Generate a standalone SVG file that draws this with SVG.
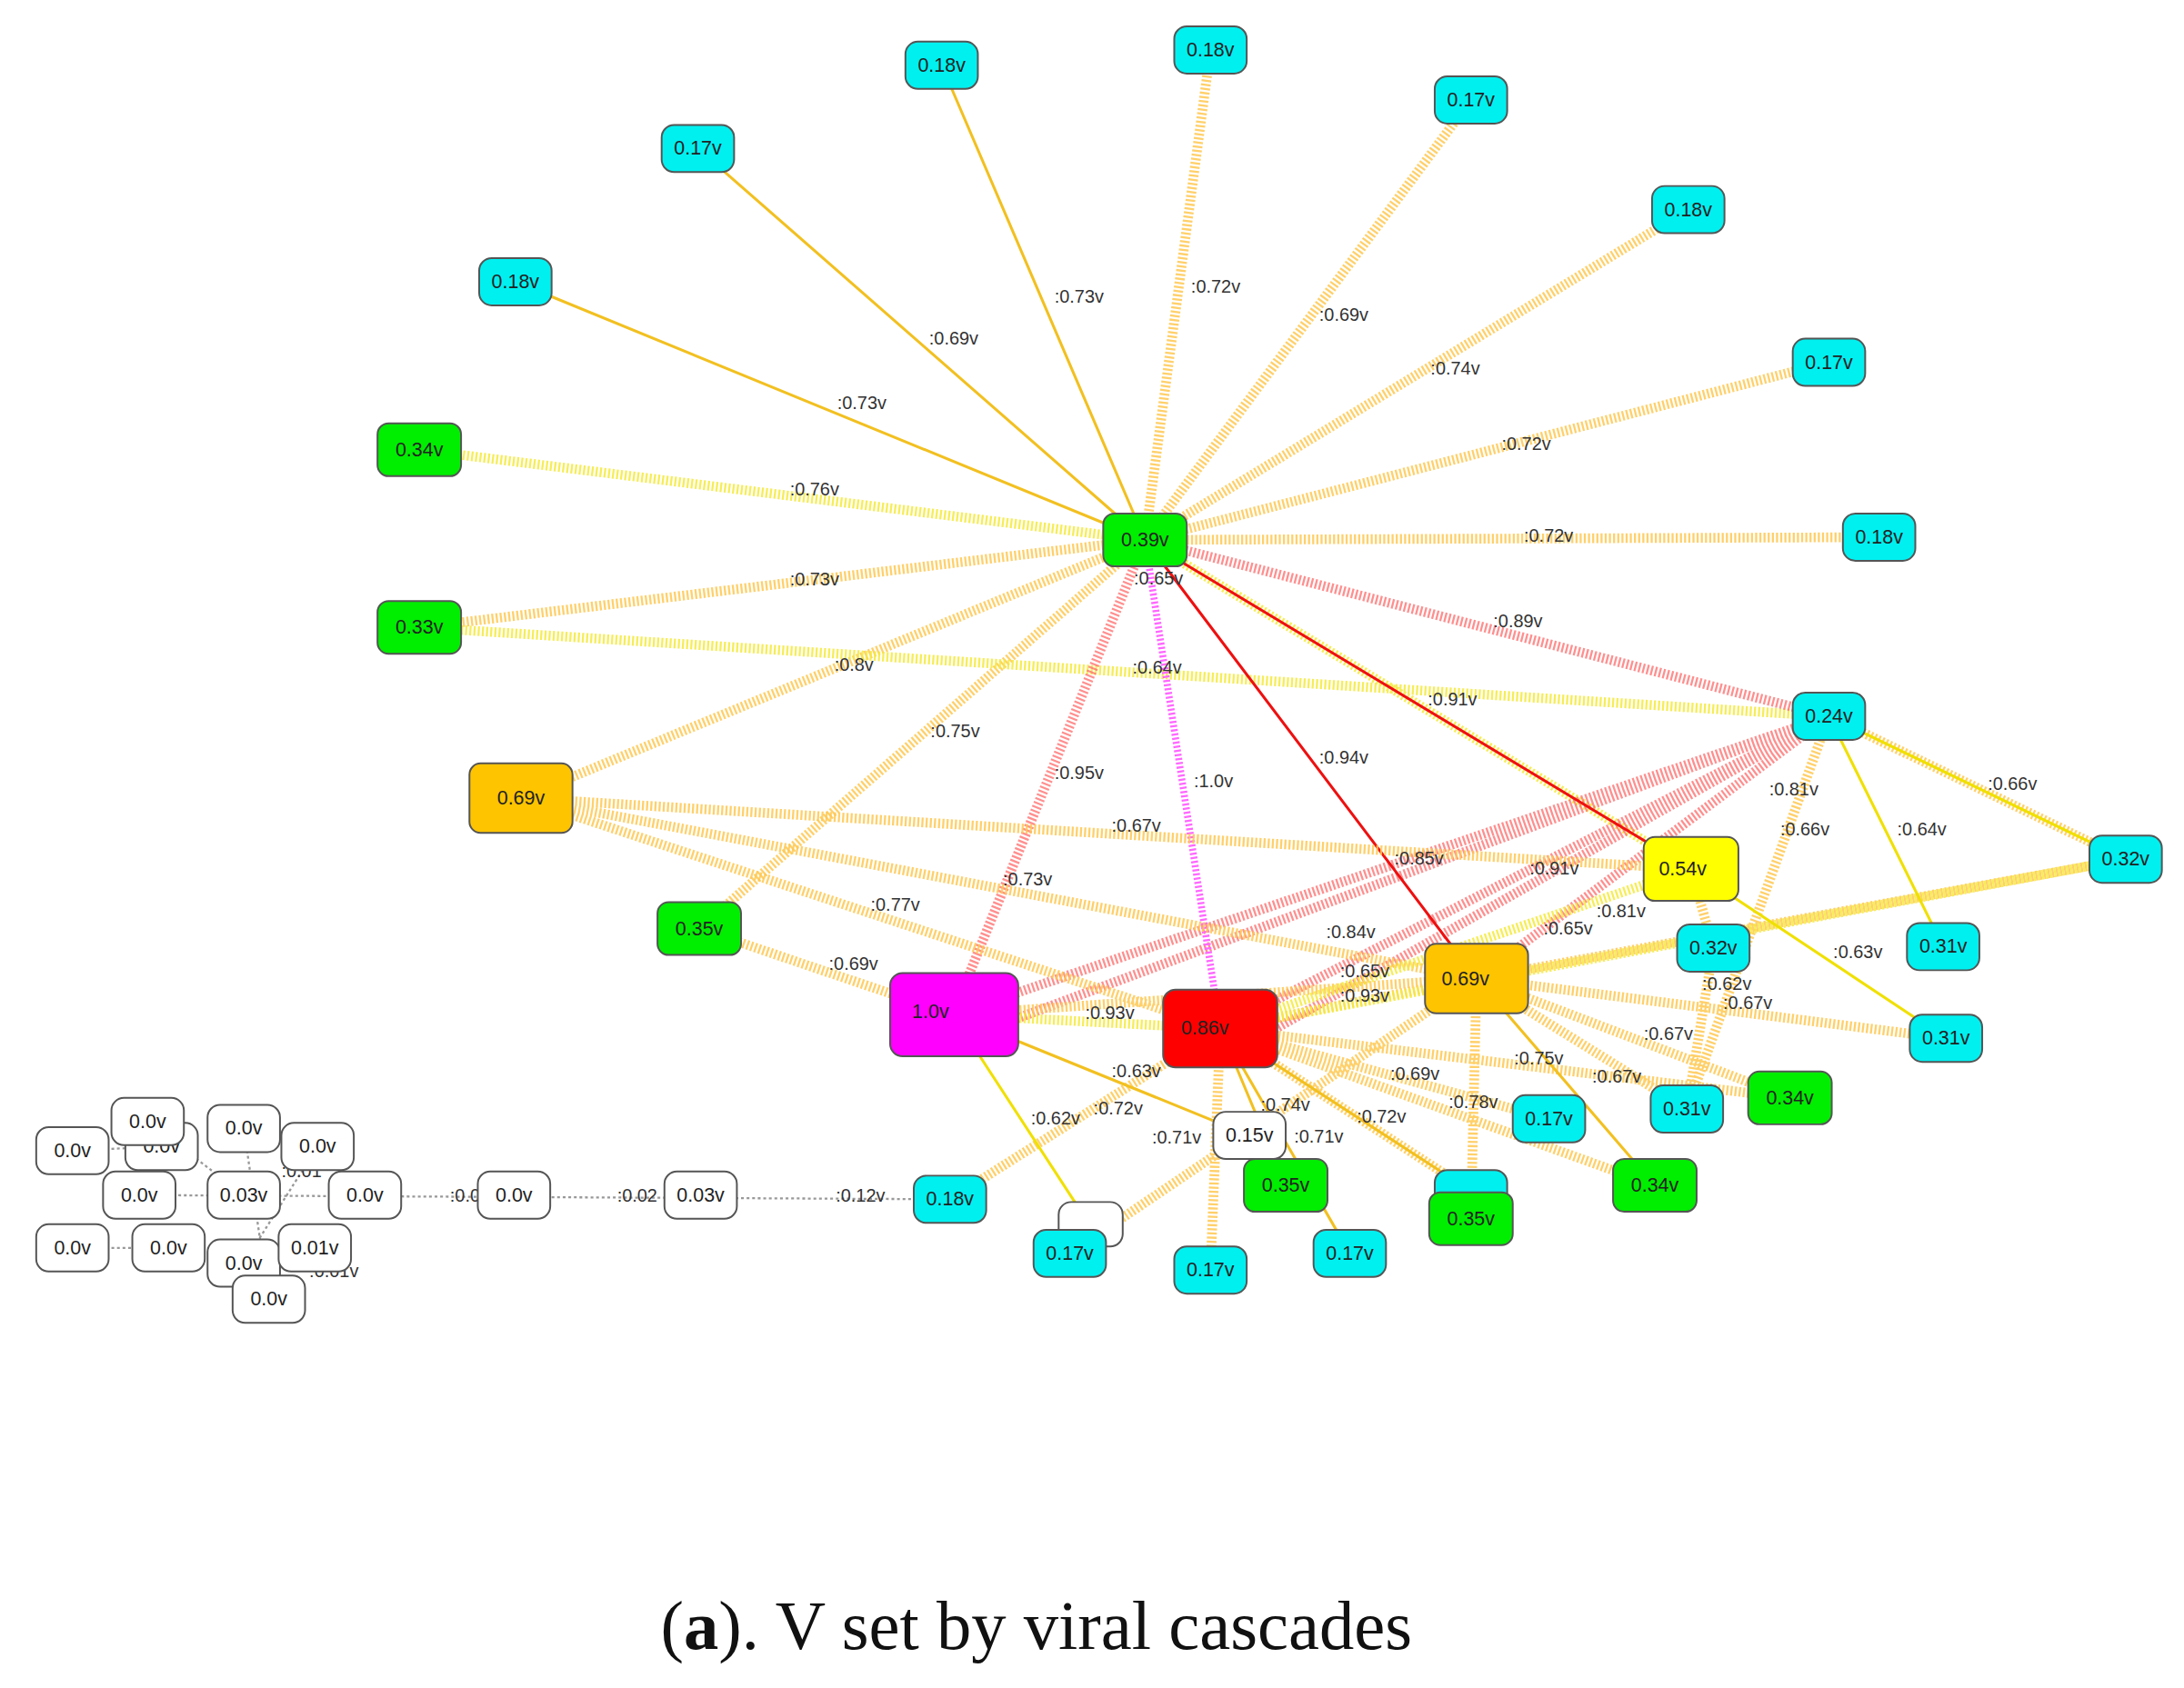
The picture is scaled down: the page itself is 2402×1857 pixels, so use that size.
<svg xmlns="http://www.w3.org/2000/svg" width="2402" height="1857" viewBox="0 0 2402 1857">
<style>
.n rect{stroke:#555;stroke-width:1.3}
.n text{font-family:"Liberation Sans",Arial,sans-serif;font-size:14px;text-anchor:middle;dominant-baseline:central;fill:#222}
.c{fill:#00f0f0}.g{fill:#00ee00}.o{fill:#ffc400}.y{fill:#ffff00}.m{fill:#ff00ff}.r{fill:#ff0000}.w{fill:#fff}
.h{stroke:#ffc850;stroke-width:7;stroke-dasharray:1.5 1.5;fill:none;opacity:.85}
.hy{stroke:#f4ea3a;stroke-width:7;stroke-dasharray:1.5 1.5;fill:none;opacity:.85}
.hr{stroke:#ff6060;stroke-width:7;stroke-dasharray:1.5 1.5;fill:none;opacity:.7}
.hm{stroke:#ff66ff;stroke-width:5;stroke-dasharray:1.5 1.5;fill:none}
.s{stroke:#f2c020;stroke-width:2;fill:none}
.sy{stroke:#f0e000;stroke-width:2;fill:none}
.sr{stroke:#ee1010;stroke-width:2;fill:none}
.d{stroke:#999;stroke-width:1.5;stroke-dasharray:2 2;fill:none}
.l{font-family:"Liberation Sans",Arial,sans-serif;font-size:13px;fill:#333}
</style>
<g transform="scale(1.532,1.527)">
<g id="connectors">
<path class="s" d="M822 389L676 47M822 389L501 107M822 389L370 203"/>
<path class="h" d="M822 389L869 36M822 389L1056 72M822 389L1212 151M822 389L1313 261M822 389L1349 387M822 389L301 452M822 389L374 575M822 389L502 669"/>
<path class="hy" d="M822 389L301 324M301 452L1313 516M822 389L1214 626"/>
<path class="hr" d="M822 389L1313 516M822 389L684 731M1313 516L684 731M1313 516L700 745M1313 516L876 741M1313 516L1060 705M1313 516L900 750"/>
<path class="hm" d="M822 389L876 741"/>
<path class="sr" d="M822 389L1060 705M822 389L1214 626"/>
<path class="h" d="M374 575L1214 626M374 575L1060 705M374 575L876 741M502 669L684 731M684 731L1060 705M1313 516L1526 619M1313 516L1211 799M1060 705L1526 619M1060 705L1397 748M1060 705L1285 791M1060 705L1211 799M1060 705L1056 878M876 741L682 864M876 741L869 915M876 741L1112 806M876 741L1188 854M876 741L1285 791M876 741L1056 858M1060 705L876 741M1060 705L768 903M1214 626L1230 683M1230 683L1211 799"/>
<path class="hy" d="M684 731L876 741M876 741L1214 626M876 741L1526 619"/>
<path class="s" d="M1060 705L1188 854M876 741L969 903M876 741L923 854M876 741L1056 858M684 731L897 818"/>
<path class="sy" d="M684 731L782 882M1313 516L1395 682M1214 626L1397 748M1313 516L1526 619"/>
<path class="d" d="M52 829L116 826M100 861L682 864M52 899L121 899M175 813L193 936M228 826L175 910M106 808L175 861"/>
</g>
<g class="l">
<text x="757" y="218">:0.73v</text><text x="855" y="211">:0.72v</text><text x="947" y="231">:0.69v</text><text x="667" y="248">:0.69v</text><text x="1027" y="270">:0.74v</text><text x="601" y="295">:0.73v</text><text x="1078" y="324">:0.72v</text><text x="567" y="357">:0.76v</text><text x="1094" y="390">:0.72v</text><text x="567" y="422">:0.73v</text><text x="814" y="421">:0.65v</text><text x="1072" y="452">:0.89v</text><text x="599" y="483">:0.8v</text><text x="813" y="485">:0.64v</text><text x="1025" y="508">:0.91v</text><text x="668" y="531">:0.75v</text><text x="947" y="550">:0.94v</text><text x="757" y="561">:0.95v</text><text x="857" y="567">:1.0v</text><text x="1270" y="573">:0.81v</text><text x="1427" y="569">:0.66v</text><text x="798" y="599">:0.67v</text><text x="1278" y="602">:0.66v</text><text x="1362" y="602">:0.64v</text><text x="1001" y="623">:0.85v</text><text x="1098" y="630">:0.91v</text><text x="720" y="638">:0.73v</text><text x="625" y="656">:0.77v</text><text x="1146" y="661">:0.81v</text><text x="952" y="676">:0.84v</text><text x="1108" y="673">:0.65v</text><text x="595" y="699">:0.69v</text><text x="962" y="704">:0.65v</text><text x="1316" y="690">:0.63v</text><text x="1222" y="713">:0.62v</text><text x="962" y="722">:0.93v</text><text x="1237" y="727">:0.67v</text><text x="779" y="734">:0.93v</text><text x="1180" y="749">:0.67v</text><text x="1143" y="780">:0.67v</text><text x="1087" y="767">:0.75v</text><text x="798" y="776">:0.63v</text><text x="998" y="778">:0.69v</text><text x="1040" y="798">:0.78v</text><text x="905" y="800">:0.74v</text><text x="974" y="809">:0.72v</text><text x="740" y="810">:0.62v</text><text x="785" y="803">:0.72v</text><text x="827" y="824">:0.71v</text><text x="929" y="823">:0.71v</text><text x="323" y="866">:0.0</text><text x="443" y="866">:0.02</text><text x="600" y="866">:0.12v</text><text x="222" y="920">:0.01v</text><text x="202" y="848">:0.01</text>
</g>
<g class="n">
<g id="w1"><rect class="w" x="26" y="812" width="52" height="34" rx="9"/><text x="52" y="829">0.0v</text></g>
<g id="w2"><rect class="w" x="90" y="809" width="52" height="34" rx="9"/><text x="116" y="826">0.0v</text></g>
<g id="w3"><rect class="w" x="80" y="791" width="52" height="34" rx="9"/><text x="106" y="808">0.0v</text></g>
<g id="w4"><rect class="w" x="149" y="796" width="52" height="34" rx="9"/><text x="175" y="813">0.0v</text></g>
<g id="w5"><rect class="w" x="202" y="809" width="52" height="34" rx="9"/><text x="228" y="826">0.0v</text></g>
<g id="w6"><rect class="w" x="74" y="844" width="52" height="34" rx="9"/><text x="100" y="861">0.0v</text></g>
<g id="w7"><rect class="w" x="149" y="844" width="52" height="34" rx="9"/><text x="175" y="861">0.03v</text></g>
<g id="w8"><rect class="w" x="236" y="844" width="52" height="34" rx="9"/><text x="262" y="861">0.0v</text></g>
<g id="w9"><rect class="w" x="26" y="882" width="52" height="34" rx="9"/><text x="52" y="899">0.0v</text></g>
<g id="w10"><rect class="w" x="95" y="882" width="52" height="34" rx="9"/><text x="121" y="899">0.0v</text></g>
<g id="w11"><rect class="w" x="149" y="893" width="52" height="34" rx="9"/><text x="175" y="910">0.0v</text></g>
<g id="w12"><rect class="w" x="200" y="882" width="52" height="34" rx="9"/><text x="226" y="899">0.01v</text></g>
<g id="w13"><rect class="w" x="167" y="919" width="52" height="34" rx="9"/><text x="193" y="936">0.0v</text></g>
<g id="w14"><rect class="w" x="343" y="844" width="52" height="34" rx="9"/><text x="369" y="861">0.0v</text></g>
<g id="w15"><rect class="w" x="477" y="844" width="52" height="34" rx="9"/><text x="503" y="861">0.03v</text></g>
<g id="c1"><rect class="c" x="650" y="30" width="52" height="34" rx="9"/><text x="676" y="47">0.18v</text></g>
<g id="c2"><rect class="c" x="843" y="19" width="52" height="34" rx="9"/><text x="869" y="36">0.18v</text></g>
<g id="c3"><rect class="c" x="1030" y="55" width="52" height="34" rx="9"/><text x="1056" y="72">0.17v</text></g>
<g id="c4"><rect class="c" x="475" y="90" width="52" height="34" rx="9"/><text x="501" y="107">0.17v</text></g>
<g id="c5"><rect class="c" x="1186" y="134" width="52" height="34" rx="9"/><text x="1212" y="151">0.18v</text></g>
<g id="c6"><rect class="c" x="344" y="186" width="52" height="34" rx="9"/><text x="370" y="203">0.18v</text></g>
<g id="c7"><rect class="c" x="1287" y="244" width="52" height="34" rx="9"/><text x="1313" y="261">0.17v</text></g>
<g id="c8"><rect class="c" x="1323" y="370" width="52" height="34" rx="9"/><text x="1349" y="387">0.18v</text></g>
<g id="c9"><rect class="c" x="1287" y="499" width="52" height="34" rx="9"/><text x="1313" y="516">0.24v</text></g>
<g id="c10"><rect class="c" x="1500" y="602" width="52" height="34" rx="9"/><text x="1526" y="619">0.32v</text></g>
<g id="c11"><rect class="c" x="1204" y="666" width="52" height="34" rx="9"/><text x="1230" y="683">0.32v</text></g>
<g id="c12"><rect class="c" x="1369" y="665" width="52" height="34" rx="9"/><text x="1395" y="682">0.31v</text></g>
<g id="c13"><rect class="c" x="1371" y="731" width="52" height="34" rx="9"/><text x="1397" y="748">0.31v</text></g>
<g id="c14"><rect class="c" x="1185" y="782" width="52" height="34" rx="9"/><text x="1211" y="799">0.31v</text></g>
<g id="c15"><rect class="c" x="1086" y="789" width="52" height="34" rx="9"/><text x="1112" y="806">0.17v</text></g>
<g id="c16"><rect class="c" x="656" y="847" width="52" height="34" rx="9"/><text x="682" y="864">0.18v</text></g>
<g id="w16"><rect class="w" x="760" y="866" width="46" height="32" rx="9"/></g>
<g id="c17"><rect class="c" x="742" y="886" width="52" height="34" rx="9"/><text x="768" y="903">0.17v</text></g>
<g id="c18"><rect class="c" x="843" y="898" width="52" height="34" rx="9"/><text x="869" y="915">0.17v</text></g>
<g id="c19"><rect class="c" x="943" y="886" width="52" height="34" rx="9"/><text x="969" y="903">0.17v</text></g>
<g id="c20"><rect class="c" x="1030" y="843" width="52" height="34" rx="9"/></g>
<g id="w17"><rect class="w" x="871" y="801" width="52" height="34" rx="9"/><text x="897" y="818">0.15v</text></g>
<g id="g1"><rect class="g" x="271" y="305" width="60" height="38" rx="8"/><text x="301" y="324">0.34v</text></g>
<g id="g2"><rect class="g" x="271" y="433" width="60" height="38" rx="8"/><text x="301" y="452">0.33v</text></g>
<g id="g3"><rect class="g" x="792" y="370" width="60" height="38" rx="8"/><text x="822" y="389">0.39v</text></g>
<g id="g4"><rect class="g" x="472" y="650" width="60" height="38" rx="8"/><text x="502" y="669">0.35v</text></g>
<g id="g5"><rect class="g" x="893" y="835" width="60" height="38" rx="8"/><text x="923" y="854">0.35v</text></g>
<g id="g6"><rect class="g" x="1026" y="859" width="60" height="38" rx="8"/><text x="1056" y="878">0.35v</text></g>
<g id="g7"><rect class="g" x="1158" y="835" width="60" height="38" rx="8"/><text x="1188" y="854">0.34v</text></g>
<g id="g8"><rect class="g" x="1255" y="772" width="60" height="38" rx="8"/><text x="1285" y="791">0.34v</text></g>
<g id="o1"><rect class="o" x="337" y="550" width="74" height="50" rx="8"/><text x="374" y="575">0.69v</text></g>
<g id="o2"><rect class="o" x="1023" y="680" width="74" height="50" rx="8"/><text x="1052" y="705">0.69v</text></g>
<g id="y1"><rect class="y" x="1180" y="603" width="68" height="46" rx="8"/><text x="1208" y="626">0.54v</text></g>
<g id="m1"><rect class="m" x="639" y="701" width="92" height="60" rx="9"/><text x="668" y="729">1.0v</text></g>
<g id="r1"><rect class="r" x="835" y="713" width="82" height="56" rx="9"/><text x="865" y="741">0.86v</text></g>
</g>
<text x="744" y="1188" font-family="Liberation Serif,serif" font-size="50" text-anchor="middle" fill="#111">(<tspan font-weight="bold">a</tspan>). V set by viral cascades</text>
</g>
</svg>
